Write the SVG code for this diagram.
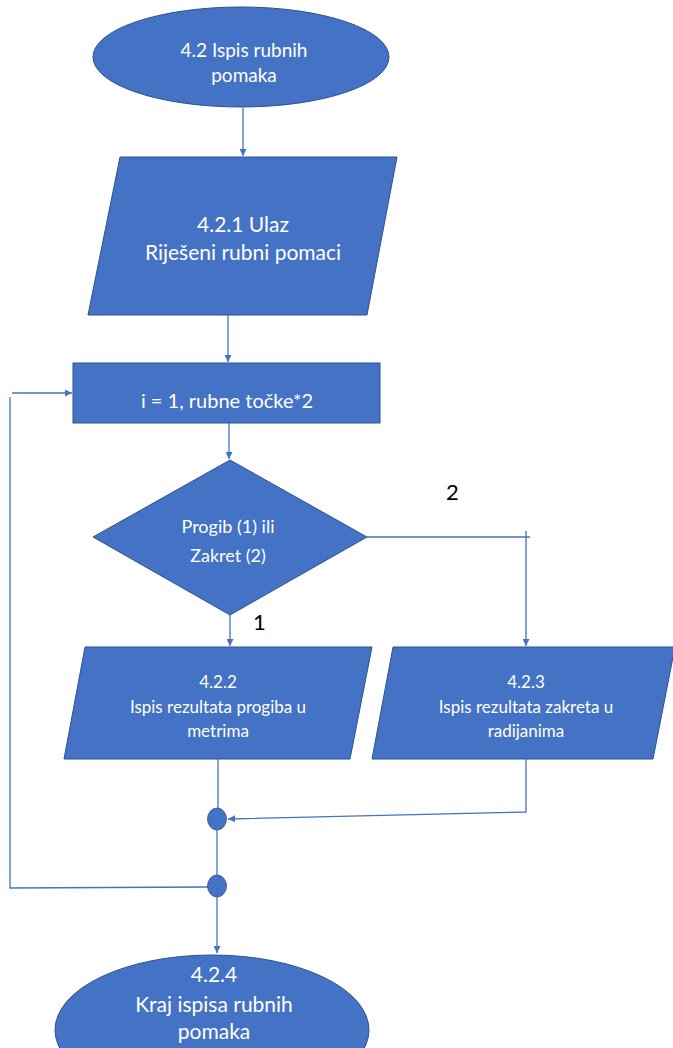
<svg xmlns="http://www.w3.org/2000/svg" width="673" height="1048" viewBox="0 0 673 1048">
  <style>
    .shape { fill: #4472C4; stroke: #2F528F; stroke-width: 1; }
    .dot { fill: #4472C4; stroke: #2F528F; stroke-width: 0.8; }
    .t { font-family: Lato, "Open Sans", "Liberation Sans", sans-serif; fill: #FFFFFF; text-anchor: middle; }
    .lbl { font-family: Lato, "Open Sans", "Liberation Sans", sans-serif; fill: #000000; font-size: 22px; }
    .c { fill: none; stroke: #4472C4; stroke-width: 1.3; }
  </style>
  <defs>
    <marker id="arr" viewBox="0 0 10 10" refX="10" refY="5" markerWidth="7" markerHeight="7" orient="auto" markerUnits="userSpaceOnUse">
      <path d="M0,0 L10,5 L0,10 z" fill="#4472C4"/>
    </marker>
  </defs>
  <rect width="673" height="1048" fill="#FFFFFF"/>

  <g id="connectors">
    <path class="c" d="M243,108 L243,156" marker-end="url(#arr)"/>
    <path class="c" d="M228,315 L228,362" marker-end="url(#arr)"/>
    <path class="c" d="M229,423 L229,459" marker-end="url(#arr)"/>
    <path class="c" d="M230,615 L230,646" marker-end="url(#arr)"/>
    <path class="c" d="M367,537 L530,537 M526,531 L526,646" marker-end="url(#arr)"/>
    <path class="c" d="M218,759 L218,808"/>
    <path class="c" d="M526,759 L526,812 L228,819" marker-end="url(#arr)"/>
    <path class="c" d="M217,830 L217,875"/>
    <path class="c" d="M217,897 L217,953" marker-end="url(#arr)"/>
    <path class="c" d="M208,887 L10,888 L10,397"/>
    <path class="c" d="M12,393 L72,393" marker-end="url(#arr)"/>
  </g>

  <g id="start">
    <ellipse class="shape" cx="241" cy="57" rx="148" ry="50"/>
    <text class="t" font-size="19"><tspan x="244" y="57">4.2  Ispis rubnih</tspan><tspan x="244" y="82">pomaka</tspan></text>
  </g>

  <g id="input">
    <polygon class="shape" points="120,157 397,157 367,315 88,315"/>
    <text class="t" font-size="21"><tspan x="243" y="232">4.2.1 Ulaz</tspan><tspan x="243" y="260">Riješeni rubni pomaci</tspan></text>
  </g>

  <g id="loop">
    <rect class="shape" x="73" y="363" width="307" height="60"/>
    <text class="t" font-size="20" x="227" y="408">i = 1, rubne točke*2</text>
  </g>

  <g id="decision">
    <polygon class="shape" points="230,460 367,537 230,615 93,537"/>
    <text class="t" font-size="18"><tspan x="228" y="533">Progib (1) ili</tspan><tspan x="228" y="562">Zakret (2)</tspan></text>
  </g>

  <g id="label2"><text class="lbl" x="446" y="500">2</text></g>
  <g id="label1"><text class="lbl" x="253" y="630">1</text></g>

  <g id="out-progib">
    <polygon class="shape" points="85,647 372,647 350,759 64,759"/>
    <text class="t" font-size="17"><tspan x="218" y="688">4.2.2</tspan><tspan x="218" y="713">Ispis rezultata progiba u</tspan><tspan x="218" y="737">metrima</tspan></text>
  </g>

  <g id="out-zakret">
    <polygon class="shape" points="393,647 675,647 653,759 372,759"/>
    <text class="t" font-size="17"><tspan x="526" y="688">4.2.3</tspan><tspan x="526" y="713">Ispis rezultata zakreta u</tspan><tspan x="526" y="737">radijanima</tspan></text>
  </g>

  <g id="merge1"><ellipse class="dot" cx="217" cy="819" rx="9.5" ry="11"/></g>
  <g id="merge2"><ellipse class="dot" cx="217" cy="886" rx="9.5" ry="11"/></g>

  <g id="end">
    <ellipse class="shape" cx="212" cy="1030" rx="157" ry="75"/>
    <text class="t" font-size="21"><tspan x="214" y="982">4.2.4</tspan><tspan x="214" y="1012">Kraj ispisa rubnih</tspan><tspan x="214" y="1039">pomaka</tspan></text>
  </g>
</svg>
